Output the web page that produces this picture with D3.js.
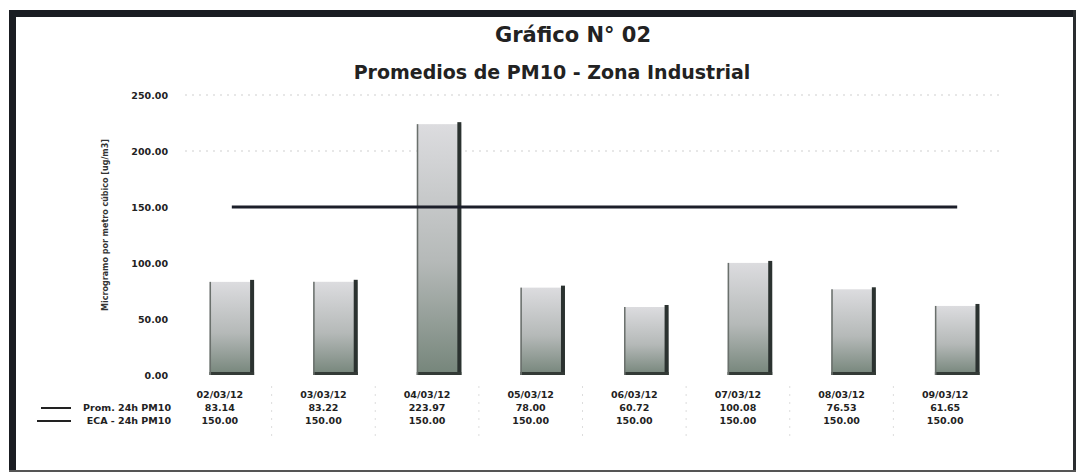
<!DOCTYPE html>
<html>
<head>
<meta charset="utf-8">
<script src="https://cdn.jsdelivr.net/npm/d3@7"></script>
<style>
  body { margin: 0; background: #fff; }
  svg { display: block; font-family: "DejaVu Sans", sans-serif; }
</style>
</head>
<body>
<div id="grafico"></div>
<script>
// datos del grafico
const fechas = ["02/03/12", "03/03/12", "04/03/12", "05/03/12", "06/03/12", "07/03/12", "08/03/12", "09/03/12"];
const promedios = [83.14, 83.22, 223.97, 78.00, 60.72, 100.08, 76.53, 61.65];
const eca = [150.00, 150.00, 150.00, 150.00, 150.00, 150.00, 150.00, 150.00];
const ticksY = [0, 50, 100, 150, 200, 250];
const filas = [
    { nombre: "Prom. 24h PM10", valores: promedios },
    { nombre: "ECA - 24h PM10", valores: eca }
];

const width = 1080, height = 474;

const svg = d3.select("#grafico").append("svg")
    .attr("width", width)
    .attr("height", height);

// marco exterior
svg.append("rect").attr("x", 9).attr("y", 10).attr("width", 1067).attr("height", 7).attr("fill", "#1a1d22");
svg.append("rect").attr("x", 9).attr("y", 10).attr("width", 7).attr("height", 462).attr("fill", "#1a1d22");
svg.append("rect").attr("x", 1073).attr("y", 10).attr("width", 3).attr("height", 462).attr("fill", "#2a2d30");
svg.append("rect").attr("x", 9).attr("y", 470).attr("width", 1067).attr("height", 2).attr("fill", "#555");

// titulos
svg.append("text")
    .attr("x", 573).attr("y", 42)
    .attr("text-anchor", "middle")
    .style("font-size", "21px").style("font-weight", "bold").style("fill", "#222")
    .text("Gráfico N° 02");
svg.append("text")
    .attr("x", 552).attr("y", 79)
    .attr("text-anchor", "middle")
    .style("font-size", "19px").style("font-weight", "bold").style("fill", "#222")
    .text("Promedios de PM10 - Zona Industrial");

// escalas
const x = d3.scaleBand()
    .domain(fechas)
    .range([180, 1009])
    .paddingInner(0.57)
    .paddingOuter(0.285);

const y = d3.scaleLinear()
    .domain([0, 250])
    .range([375, 95]);

// lineas de grilla (punteadas, tenues)
svg.selectAll("line.grid")
    .data(ticksY.filter(d => d >= 200))
    .enter().append("line")
    .attr("class", "grid")
    .attr("x1", 185).attr("x2", 1000)
    .attr("y1", d => y(d)).attr("y2", d => y(d))
    .attr("stroke", "#cfcfcf")
    .attr("stroke-width", 1)
    .attr("stroke-dasharray", "2,5");

// eje Y
const ejeY = svg.append("g")
    .attr("transform", "translate(171,0)")
    .call(d3.axisLeft(y).tickValues(ticksY).tickFormat(d3.format(".2f")).tickSize(0));
ejeY.select(".domain").remove();
ejeY.selectAll("text")
    .style("font-size", "9.5px").style("font-weight", "bold").style("fill", "#222")
    .style("font-family", "DejaVu Sans")
    .attr("dy", "0.32em");

svg.append("text")
    .attr("transform", "translate(108,225) rotate(-90)")
    .attr("text-anchor", "middle")
    .style("font-size", "8px").style("font-weight", "bold").style("fill", "#333")
    .text("Microgramo por metro cúbico [ug/m3]");

// degradado de las barras
const defs = svg.append("defs");
const grad = defs.append("linearGradient")
    .attr("id", "gradBarra")
    .attr("x1", 0).attr("y1", 0).attr("x2", 0).attr("y2", 1);
grad.append("stop").attr("offset", "0%").attr("stop-color", "#dcdcdf");
grad.append("stop").attr("offset", "55%").attr("stop-color", "#b5b9b8");
grad.append("stop").attr("offset", "100%").attr("stop-color", "#75857a");

// barras
const barras = svg.selectAll("g.barra")
    .data(promedios)
    .enter().append("g")
    .attr("class", "barra");

barras.append("rect")
    .attr("x", (d, i) => x(fechas[i]))
    .attr("y", d => y(d))
    .attr("width", x.bandwidth())
    .attr("height", d => y(0) - y(d))
    .attr("fill", "url(#gradBarra)");

// bordes oscuros
barras.append("rect")
    .attr("x", (d, i) => x(fechas[i]) + x.bandwidth() - 4)
    .attr("y", d => y(d) - 2)
    .attr("width", 4)
    .attr("height", d => y(0) - y(d) + 2)
    .attr("fill", "#2b3230");
barras.append("rect")
    .attr("x", (d, i) => x(fechas[i]))
    .attr("y", y(0) - 3)
    .attr("width", x.bandwidth())
    .attr("height", 3)
    .attr("fill", "#333a36");
barras.append("rect")
    .attr("x", (d, i) => x(fechas[i]))
    .attr("y", d => y(d))
    .attr("width", 1.5)
    .attr("height", d => y(0) - y(d))
    .attr("fill", "#6a706c");

// linea ECA
const linea = d3.line()
    .x((d, i) => x(fechas[i]) + x.bandwidth() / 2)
    .y(d => y(d));
svg.append("path")
    .datum(eca)
    .attr("d", linea)
    .attr("fill", "none")
    .attr("stroke", "#1c1f2a")
    .attr("stroke-width", 3);

// tabla de datos
const desplaz = -12;
svg.selectAll("text.fecha")
    .data(fechas)
    .enter().append("text")
    .attr("class", "fecha")
    .attr("x", d => x(d) + x.bandwidth() / 2 + desplaz)
    .attr("y", 398)
    .attr("text-anchor", "middle")
    .style("font-size", "9.5px").style("font-weight", "bold").style("fill", "#222")
    .text(d => d);

filas.forEach((fila, k) => {
    const yy = 411 + k * 13;
    svg.selectAll("text.fila" + k)
        .data(fila.valores)
        .enter().append("text")
        .attr("class", "fila" + k)
        .attr("x", (d, i) => x(fechas[i]) + x.bandwidth() / 2 + desplaz)
        .attr("y", yy)
        .attr("text-anchor", "middle")
        .style("font-size", "9.5px").style("font-weight", "bold").style("fill", "#222")
        .text(d => d3.format(".2f")(d));

    svg.append("text")
        .attr("x", 171).attr("y", yy)
        .attr("text-anchor", "end")
        .style("font-size", "9.5px").style("font-weight", "bold").style("fill", "#222")
        .text(fila.nombre);

    svg.append("line")
        .attr("x1", k === 0 ? 41 : 37).attr("x2", 71)
        .attr("y1", yy - 3).attr("y2", yy - 3)
        .attr("stroke", "#222")
        .attr("stroke-width", 2);
});

// separadores tenues de la tabla
svg.selectAll("line.sep")
    .data(fechas.slice(1))
    .enter().append("line")
    .attr("class", "sep")
    .attr("x1", d => x(d) - (x.step() - x.bandwidth()) / 2 + desplaz)
    .attr("x2", d => x(d) - (x.step() - x.bandwidth()) / 2 + desplaz)
    .attr("y1", 386).attr("y2", 440)
    .attr("stroke", "#ddd")
    .attr("stroke-dasharray", "2,6");
</script>
</body>
</html>
